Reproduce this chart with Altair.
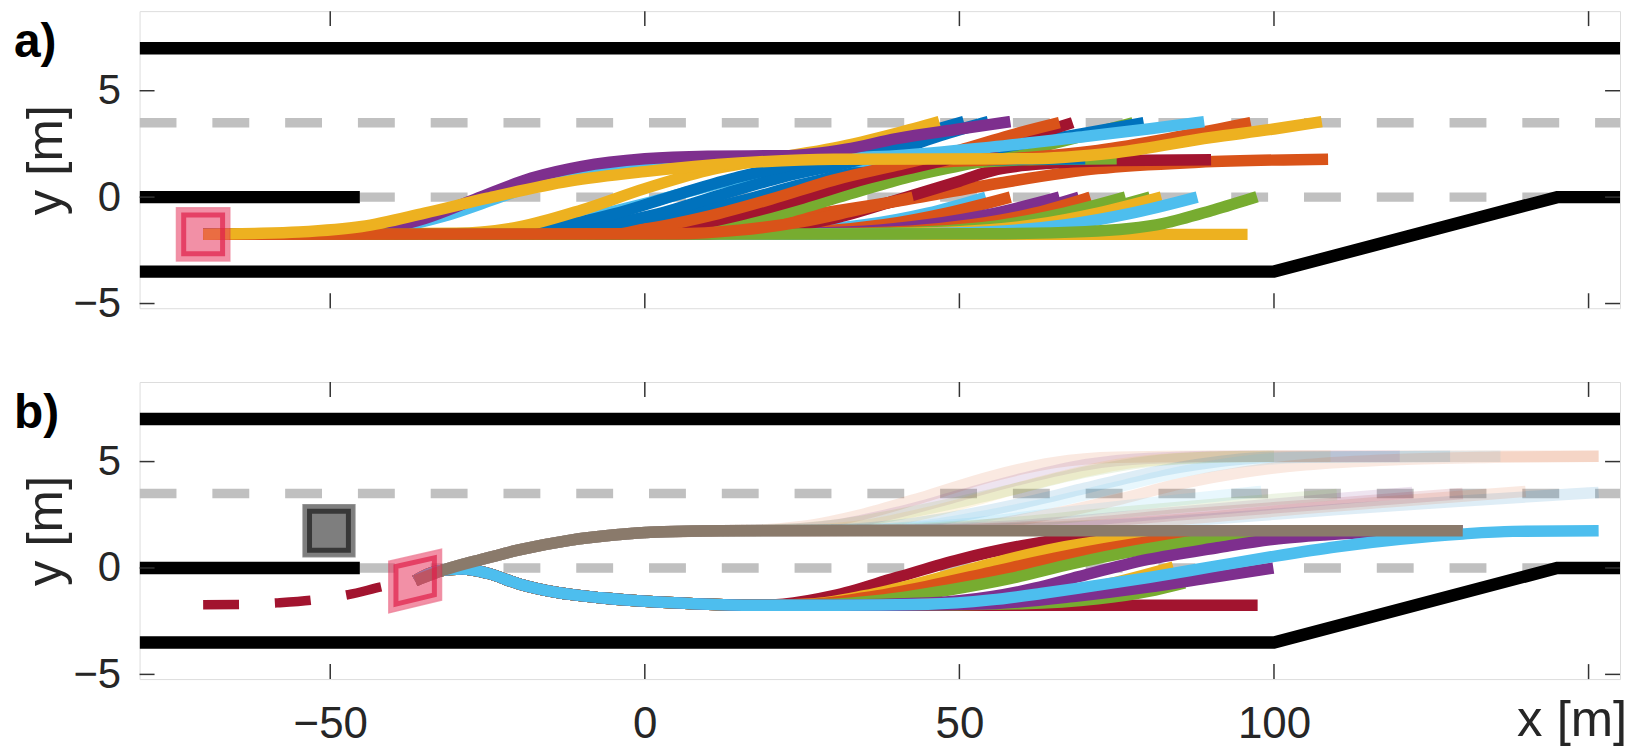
import altair as alt
import pandas as pd

# ---------------- axes / road geometry ----------------
X_DOMAIN = [-80.3, 155.0]
Y_DOMAIN = [-5.22, 8.74]
X_TICKS = [-50, 0, 50, 100, 150]
X_LABELS = [-50, 0, 50, 100]
Y_TICKS = [-5, 0, 5]

ROAD_TOP_X = [-80.3, 155.0]
ROAD_TOP_Y = [7.0, 7.0]
ROAD_BOT_X = [-80.3, 100.0, 145.0, 155.0]
ROAD_BOT_Y = [-3.5, -3.5, 0.0, 0.0]
ROAD_MID_X = [-80.3, -45.3]
ROAD_MID_Y = [0.0, 0.0]
DASH_X = [-80.3, 155.0]
DASH_LEVELS = [3.5, 0.0]

BLUE, ORANGE, YELLOW, PURPLE = "#0072BD", "#D95319", "#EDB120", "#7E2F8E"
GREEN, LBLUE, DRED, BROWN = "#77AC30", "#4DBEEE", "#A2142F", "#8A7A6B"

# ---------------- panel a ----------------
EGO_A = (-70.2, -1.75)
A_FLAT = [(YELLOW, [95.8], [-1.75])]
A_LOW = [
    (LBLUE, [15, 25, 35, 45, 54.2], [-1.72, -1.6, -1.3, -0.75, 0.0]),
    (ORANGE, [15, 28, 38, 48, 58.1], [-1.72, -1.6, -1.3, -0.75, 0.0]),
    (PURPLE, [20, 35, 45, 55, 65.9], [-1.72, -1.6, -1.3, -0.8, 0.0]),
    (PURPLE, [25, 40, 50, 60, 69.0], [-1.72, -1.6, -1.3, -0.75, 0.0]),
    (ORANGE, [28, 42, 52, 62, 70.8], [-1.72, -1.6, -1.3, -0.75, 0.0]),
    (GREEN, [30, 45, 56, 66, 76.4], [-1.72, -1.62, -1.35, -0.8, 0.0]),
    (GREEN, [35, 50, 60, 70, 80.3], [-1.72, -1.62, -1.35, -0.8, 0.0]),
    (YELLOW, [35, 50, 62, 72, 82.1], [-1.72, -1.62, -1.3, -0.75, 0.0]),
    (LBLUE, [40, 55, 67, 77, 87.8], [-1.72, -1.62, -1.3, -0.78, 0.0]),
]
A_MID = [
    (ORANGE, [0, 10, 25, 40, 56, 72, 88, 108.6], [-1.72, -1.55, -0.9, -0.2, 0.64, 1.34, 1.64, 1.78]),
    (DRED, [10, 20, 30, 40, 50, 56, 65, 75, 90], [-1.72, -1.5, -1.0, -0.15, 0.75, 1.3, 1.6, 1.72, 1.76]),
    (GREEN, [-10, 0, 10, 20, 30, 40, 50, 60, 75], [-1.72, -1.5, -1.0, -0.3, 0.45, 1.1, 1.55, 1.75, 1.8]),
    (BLUE, [-15, -5, 5, 15, 25, 35, 45, 55, 70], [-1.72, -1.45, -0.9, -0.2, 0.6, 1.25, 1.6, 1.75, 1.8]),
    (LBLUE, [-30, -20, -10, 0, 10, 20, 30, 40, 55], [-1.72, -1.5, -1.0, -0.3, 0.5, 1.2, 1.6, 1.75, 1.85]),
]
A_UP = [
    (GREEN, [0, 12, 22, 32, 42, 52, 62, 70, 77.6], [-1.72, -1.4, -0.75, 0.1, 0.95, 1.6, 2.3, 2.9, 3.5]),
    (ORANGE, [-5, 5, 15, 25, 35, 45, 58, 72, 85, 96.3], [-1.72, -1.4, -0.7, 0.3, 1.1, 1.6, 1.8, 2.2, 2.85, 3.5]),
    (BLUE, [-5, 5, 15, 25, 35, 45, 56, 68, 79.3], [-1.72, -1.4, -0.7, 0.3, 1.1, 1.65, 2.3, 2.9, 3.5]),
    (DRED, [-5, 5, 15, 25, 35, 45, 54, 61, 68.0], [-1.72, -1.45, -0.85, -0.05, 0.85, 1.55, 2.2, 2.85, 3.5]),
    (ORANGE, [-10, 0, 10, 20, 30, 40, 50, 58, 65.9], [-1.72, -1.5, -0.9, -0.1, 0.8, 1.5, 2.2, 2.9, 3.5]),
    (BLUE, [-20, -8, 2, 12, 22, 32, 40, 47, 54.6], [-1.72, -1.4, -0.8, 0.1, 0.95, 1.6, 2.2, 2.9, 3.55]),
    (BLUE, [-25, -15, -5, 5, 15, 25, 35, 43, 50.7], [-1.72, -1.45, -0.8, 0.1, 0.95, 1.6, 2.2, 2.9, 3.55]),
    (YELLOW, [-30, -20, -10, 0, 10, 20, 30, 40, 46.8], [-1.7, -1.4, -0.6, 0.4, 1.25, 1.8, 2.3, 3.0, 3.55]),
]
A_EARLY = [
    (LBLUE, [-50, -40, -32, -23, -13, -3, 8, 25, 40, 55, 70, 80, 88.9],
     [-1.73, -1.45, -0.9, 0.0, 1.0, 1.5, 1.72, 1.8, 1.95, 2.35, 2.85, 3.2, 3.55]),
    (PURPLE, [-50, -42, -35, -27, -18, -10, 0, 10, 23, 32, 40, 50, 58.1],
     [-1.72, -1.5, -1.0, -0.1, 0.9, 1.45, 1.8, 1.92, 1.95, 2.25, 2.75, 3.2, 3.55]),
]
A_BOTTOM = [
    (GREEN, [55, 70, 82.5, 90.4, 97.3], [-1.72, -1.62, -1.23, -0.6, 0.02]),
    (ORANGE, [5, 15, 25, 33, 42.6], [-1.72, -1.55, -1.15, -0.65, 0.0]),
]
A_LAST = [
    (YELLOW, [-62, -55, -45, -35, -25, -12, 0, 15, 30, 60, 75, 90, 100, 107.6],
     [-1.71, -1.64, -1.38, -0.75, -0.05, 0.75, 1.2, 1.6, 1.78, 1.8, 2.1, 2.8, 3.2, 3.55]),
]

# ---------------- panel b ----------------
EGO_B = (-36.5, -0.6)
CAR_B = (-50.2, 1.75)
B_PAST_X = [-70.2, -64.4, -58.6, -52.9, -47.1, -41.4, -36.5]
B_PAST_Y = [-1.73, -1.72, -1.64, -1.51, -1.25, -0.86, -0.6]
B_DOWN_X = [-36.5, -33, -29, -25, -20, -14, -7, 2, 10, 18]
B_DOWN_Y = [-0.6, -0.15, -0.05, -0.25, -0.75, -1.15, -1.4, -1.6, -1.7, -1.75]
B_UP_X = [-36.5, -32, -26, -20, -12, -5, 3, 12]
B_UP_Y = [-0.6, -0.1, 0.4, 0.85, 1.3, 1.55, 1.7, 1.75]

B_FAINT = [
    (ORANGE, [18, 25, 35, 45, 55, 65, 75, 90, 151.6], [1.78, 1.95, 2.55, 3.4, 4.3, 4.95, 5.2, 5.25, 5.25]),
    (PURPLE, [20, 30, 40, 50, 60, 70, 80, 95, 120], [1.78, 2.0, 2.6, 3.4, 4.2, 4.85, 5.15, 5.25, 5.25]),
    (YELLOW, [25, 35, 45, 55, 65, 75, 85, 100, 109], [1.78, 2.0, 2.6, 3.4, 4.2, 4.85, 5.15, 5.25, 5.25]),
    (GREEN, [20, 30, 40, 50, 60, 70, 80, 90, 100], [1.78, 2.0, 2.5, 3.1, 3.8, 4.5, 5.0, 5.2, 5.25]),
    (BLUE, [28, 40, 50, 60, 70, 80, 90, 100, 128], [1.78, 2.0, 2.45, 3.05, 3.75, 4.45, 4.95, 5.2, 5.25]),
    (LBLUE, [32, 45, 55, 65, 75, 85, 95, 105, 136], [1.78, 2.0, 2.5, 3.1, 3.8, 4.5, 5.0, 5.2, 5.25]),
    (ORANGE, [40, 55, 65, 75, 85, 95, 105, 120, 135, 151.6], [1.78, 2.05, 2.55, 3.2, 3.95, 4.5, 4.85, 5.1, 5.2, 5.25]),
    (BLUE, [45, 70, 90, 110, 130, 151.6], [1.78, 1.95, 2.3, 2.75, 3.15, 3.55]),
    (ORANGE, [45, 70, 90, 105, 120, 140], [1.78, 1.98, 2.4, 2.8, 3.15, 3.6]),
    (LBLUE, [30, 50, 65, 80, 98], [1.78, 2.05, 2.55, 3.05, 3.6]),
    (PURPLE, [38, 60, 80, 100, 122], [1.78, 2.0, 2.5, 3.0, 3.55]),
    (GREEN, [35, 55, 75, 95, 110], [1.78, 2.05, 2.6, 3.1, 3.45]),
    (DRED, [45, 65, 85, 108, 130], [1.78, 2.0, 2.5, 3.0, 3.5]),
]
B_LOWER = [
    (DRED, [97.4], [-1.75]),
    (DRED, [22, 30, 40, 50, 60, 70, 80, 100], [-1.7, -1.3, -0.45, 0.4, 1.05, 1.48, 1.68, 1.75]),
    (YELLOW, [26, 35, 45, 55, 65, 75, 88, 105], [-1.7, -1.3, -0.6, 0.2, 0.9, 1.35, 1.65, 1.75]),
    (ORANGE, [26, 35, 45, 55, 65, 75, 88, 100, 115], [-1.72, -1.4, -0.85, -0.2, 0.45, 1.0, 1.5, 1.7, 1.75]),
    (GREEN, [28, 38, 48, 58, 68, 78, 90, 102, 125], [-1.72, -1.5, -1.05, -0.5, 0.2, 0.8, 1.35, 1.62, 1.75]),
    (PURPLE, [30, 45, 55, 62, 69, 80, 91, 100, 108, 118, 130],
     [-1.75, -1.65, -1.35, -0.95, -0.4, 0.4, 0.95, 1.35, 1.55, 1.7, 1.75]),
    (YELLOW, [35, 50, 62, 73, 84], [-1.75, -1.68, -1.4, -0.8, 0.05]),
    (GREEN, [40, 60, 72, 80, 85.8], [-1.75, -1.68, -1.45, -1.1, -0.7]),
    (PURPLE, [40, 55, 68.8, 80, 90, 99.9], [-1.75, -1.68, -1.32, -0.9, -0.45, 0.0]),
]
B_TOP_LOWER = [
    (LBLUE, [30, 45, 55, 63, 70, 80, 90, 100, 110, 120, 130, 138, 151.6],
     [-1.75, -1.7, -1.5, -1.2, -0.9, -0.45, 0.05, 0.55, 1.0, 1.35, 1.6, 1.72, 1.75]),
]
B_BROWN = [(BROWN, [130], [1.75])]

# ---------------- layout constants ----------------
W, H = 1485, 298
TICK = 15
LW = 11.5
PAD_LEFT = 5
XS = alt.Scale(domain=X_DOMAIN, nice=False, zero=False)
YS = alt.Scale(domain=Y_DOMAIN, nice=False, zero=False)
FONT = "Liberation Sans"
TXT = "#262626"
SQ = "M-1,-1L1,-1L1,1L-1,1Z"
PARA = "M-0.82,-0.61L0.82,-0.98L0.82,0.60L-0.82,1.0Z"

Y_AXIS = alt.Axis(values=Y_TICKS, ticks=False, tickSize=0, domain=False, grid=False,
                  labelFontSize=42, labelFont=FONT, labelColor=TXT, labelPadding=19,
                  title="y [m]", titleFontSize=51, titleFont=FONT, titleFontWeight="normal",
                  titleColor=TXT, titleX=-93, titleY=H / 2, titleAngle=270,
                  titleBaseline="middle", titleAlign="center")
X_AXIS_B = alt.Axis(values=X_LABELS, ticks=False, tickSize=0, domain=False, grid=False,
                    labelFontSize=44, labelFont=FONT, labelColor=TXT, labelPadding=46,
                    labelBaseline="middle", labelFlush=False, labelOverlap=False, title=None)


def traj_df(trajs, px, py, opacity, tag):
    rows = []
    for k, (col, xs, ys) in enumerate(trajs):
        ax = list(px) + list(xs)
        ay = list(py) + list(ys)
        for i, (x, y) in enumerate(zip(ax, ay)):
            rows.append(dict(id=f"{tag}{k:02d}", i=i, x=x, y=y, c=col, o=opacity))
    return pd.DataFrame(rows)


def XE(xa, field="x:Q"):
    if xa is None:
        return alt.X(field, scale=XS, axis=None)
    return alt.X(field, scale=XS, axis=xa)


def YE(field="y:Q"):
    return alt.Y(field, scale=YS, axis=Y_AXIS)


def line_layer(df, xa, width=LW, interp="monotone", dash=None, join="round"):
    kw = dict(strokeWidth=width, strokeCap="butt", strokeJoin=join, interpolate=interp, clip=True)
    if dash:
        kw["strokeDash"] = dash
    return alt.Chart(df).mark_line(**kw).encode(
        x=XE(xa), y=YE(), detail="id:N", order="i:Q",
        color=alt.Color("c:N", scale=None),
        opacity=alt.Opacity("o:Q", scale=None),
    )


def road_layers(xa):
    rows = []
    for y in DASH_LEVELS:
        for i, x in enumerate(DASH_X):
            rows.append(dict(id=f"d{y}", i=i, x=x, y=y))
    dashed = alt.Chart(pd.DataFrame(rows)).mark_line(
        strokeWidth=9.5, strokeDash=[37, 36], color="#C0C0C0", strokeCap="butt", clip=True).encode(
        x=XE(xa), y=YE(), detail="id:N", order="i:Q")
    brows = []
    for name, xs, ys in (("top", ROAD_TOP_X, ROAD_TOP_Y), ("bot", ROAD_BOT_X, ROAD_BOT_Y),
                         ("mid", ROAD_MID_X, ROAD_MID_Y)):
        for i, (x, y) in enumerate(zip(xs, ys)):
            brows.append(dict(id=name, i=i, x=x, y=y, c="#000000", o=1.0))
    black = line_layer(pd.DataFrame(brows), xa, width=12.5, interp="linear", join="miter")
    return [dashed, black]


def tick_layers(xa):
    xt = pd.DataFrame({"v": X_TICKS})
    yt = pd.DataFrame({"v": Y_TICKS})
    st = dict(color="#333333", strokeWidth=1.5)
    return [
        alt.Chart(xt).mark_rule(**st).encode(x=XE(xa, "v:Q"), y=alt.value(H), y2=alt.value(H - TICK)),
        alt.Chart(xt).mark_rule(**st).encode(x=XE(xa, "v:Q"), y=alt.value(0), y2=alt.value(TICK)),
        alt.Chart(yt).mark_rule(**st).encode(y=YE("v:Q"), x=alt.value(0), x2=alt.value(TICK)),
        alt.Chart(yt).mark_rule(**st).encode(y=YE("v:Q"), x=alt.value(W), x2=alt.value(W - TICK)),
    ]


def vehicle(xa, pos, shape, size_outer, size_inner, fill, frame, fill_op, frame_op):
    df = pd.DataFrame({"x": [pos[0]], "y": [pos[1]]})
    outer = alt.Chart(df).mark_point(shape=shape, size=size_outer, filled=True, fill=fill,
                                     opacity=fill_op, stroke=frame, strokeWidth=1.5,
                                     strokeOpacity=0.8).encode(x=XE(xa), y=YE())
    inner = alt.Chart(df).mark_point(shape=shape, size=size_inner, filled=False, stroke=frame,
                                     strokeWidth=5, opacity=frame_op).encode(x=XE(xa), y=YE())
    return [outer, inner]


def letter(t):
    return alt.Chart(pd.DataFrame({"t": [t]})).mark_text(
        align="left", baseline="middle", fontSize=48, fontWeight="bold",
        font="Liberation Sans", color="black").encode(
        text="t:N", x=alt.value(-(131 - PAD_LEFT)), y=alt.value(32))


# ---------------- panel a ----------------
ax, ay = [EGO_A[0]], [EGO_A[1]]
layers_a = road_layers(None)
for tag, grp in (("a0", A_FLAT), ("a1", A_LOW), ("a2", A_MID), ("a3", A_UP),
                 ("a4", A_EARLY), ("a5", A_BOTTOM), ("a6", A_LAST)):
    layers_a.append(line_layer(traj_df(grp, ax, ay, 1.0, tag), None))
layers_a += tick_layers(None)
layers_a += vehicle(None, EGO_A, SQ, 53.5 ** 2, 39 ** 2, "#E8375F", "#E0204A", 0.55, 0.7)
layers_a.append(letter("a)"))
panel_a = alt.layer(*layers_a).properties(width=W, height=H)

# ---------------- panel b ----------------
xb = X_AXIS_B
layers_b = road_layers(xb)
layers_b.append(line_layer(traj_df(B_FAINT, B_UP_X, B_UP_Y, 0.13, "b0"), xb))
layers_b.append(line_layer(traj_df(B_LOWER, B_DOWN_X, B_DOWN_Y, 1.0, "b1"), xb))
layers_b.append(line_layer(traj_df(B_TOP_LOWER, B_DOWN_X, B_DOWN_Y, 1.0, "b2"), xb))
layers_b.append(line_layer(traj_df(B_BROWN, B_UP_X, B_UP_Y, 1.0, "b3"), xb))
past = pd.DataFrame({"id": "past", "i": range(len(B_PAST_X)), "x": B_PAST_X, "y": B_PAST_Y,
                     "c": DRED, "o": 1.0})
layers_b.append(line_layer(past, xb, width=9.5, dash=[36, 36]))
layers_b += tick_layers(xb)
layers_b += vehicle(xb, CAR_B, SQ, 52 ** 2, 39 ** 2, "#000000", "#000000", 0.5, 0.55)
layers_b += vehicle(xb, EGO_B, PARA, 64.5 ** 2, 47 ** 2, "#E8375F", "#E0204A", 0.55, 0.7)
layers_b.append(letter("b)"))
layers_b.append(alt.Chart(pd.DataFrame({"t": ["x [m]"]})).mark_text(
    align="center", baseline="middle", fontSize=51, font=FONT, color=TXT).encode(
    text="t:N", x=alt.value(1437), y=alt.value(H + 42)))
panel_b = alt.layer(*layers_b).properties(width=W, height=H)

chart = alt.vconcat(panel_a, panel_b, spacing=55).properties(
    padding={"left": PAD_LEFT, "top": 0, "right": 0, "bottom": 0}).configure_view(
    stroke="#4d4d4d", strokeWidth=1.5).configure(background="white")

chart.save("out.html", embed_options={"renderer": "svg", "actions": False})
